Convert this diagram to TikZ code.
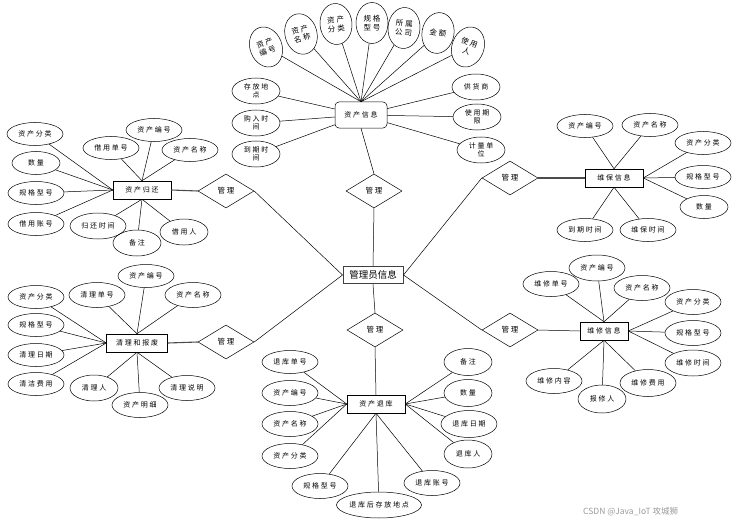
\documentclass[tikz,border=0pt]{standalone}
\usepackage{fontspec}
\setmainfont{Noto Sans CJK SC}[LetterSpace=25]
\newfontfamily\wmfont{Noto Sans CJK SC}
\usetikzlibrary{shapes.geometric}
\begin{document}
\begin{tikzpicture}[x=1pt,y=-1pt,
  base/.style={draw, inner sep=0pt, line width=0.5pt},
  attr/.style={base, ellipse, minimum width=56pt, minimum height=23pt, font=\fontsize{7}{8}\selectfont},
  sattr/.style={attr, minimum width=48pt, minimum height=26pt},
  tattr/.style={base, ellipse, minimum width=32pt, minimum height=41pt, align=center, font=\fontsize{7.5}{9}\selectfont},
  lattr/.style={base, ellipse, minimum width=48pt, minimum height=26pt, align=center, font=\fontsize{7}{8.5}\selectfont},
  ent/.style={base, rectangle, fill=white, minimum width=58pt, minimum height=18pt, font=\fontsize{7}{8}\selectfont},
  rel/.style={base, diamond, minimum width=56pt, minimum height=34pt, font=\fontsize{7.5}{8}\selectfont},
  ln/.style={line width=0.5pt},
  tl/.style={line width=1.1pt, black!70}
]
\useasboundingbox (0,0) rectangle (737,527);

% central
\node[base, rectangle, line width=1pt, draw=black!75, minimum width=60pt, minimum height=17pt, font=\wmfont\fontsize{9.5}{10}\selectfont] (m) at (373,275) {管理员信息};

% relations
\node[rel] (r1) at (374,191) {管理};
\node[rel] (r2) at (375,330) {管理};
\node[rel] (r3) at (226,191) {管理};
\node[rel] (r4) at (510,178) {管理};
\node[rel] (r5) at (226,342) {管理};
\node[rel] (r6) at (510,330) {管理};

% 资产信息
\node[base, rectangle, rounded corners=4pt, minimum width=52pt, minimum height=26pt, font=\fontsize{7}{8}\selectfont] (zc) at (361,115) {资产信息};
\node[tattr, rotate=20] (a1) at (266,47) {资产\\编号};
\node[tattr, rotate=15] (a2) at (301,34) {资产\\名称};
\node[tattr, rotate=5] (a3) at (336,24) {资产\\分类};
\node[tattr] (a4) at (372,23) {规格\\型号};
\node[tattr, rotate=-5] (a5) at (404,28) {所属\\公司};
\node[tattr, rotate=-10] (a6) at (438,33) {金额};
\node[tattr, rotate=-20] (a7) at (468,47) {使用\\人};
\node[lattr] (b1) at (256,91) {存放地\\点};
\node[lattr] (b2) at (256,123) {购入时\\间};
\node[lattr] (b3) at (256,154) {到期时\\间};
\node[lattr] (c1) at (476,87) {供货商};
\node[lattr] (c2) at (477,117) {使用期\\限};
\node[lattr] (c3) at (481,150) {计量单\\位};
\foreach \i in {a1,a2,a3,a4,a5,a6,a7} \draw[ln] (\i) -- (zc.north);
\foreach \i in {b1,b2,b3,c1,c2,c3} \draw[ln] (\i) -- (zc);

% 资产归还
\node[ent] (gh) at (142,190) {资产归还};
\node[attr] (g1) at (35,134) {资产分类};
\node[attr, minimum width=48pt] (g2) at (36,163) {数量};
\node[attr] (g3) at (36,193) {规格型号};
\node[attr] (g4) at (36,224) {借用账号};
\node[attr] (g5) at (111,148) {借用单号};
\node[attr] (g6) at (154,130) {资产编号};
\node[attr] (g7) at (190,150) {资产名称};
\node[attr, minimum height=26pt] (g8) at (98,226) {归还时间};
\node[sattr] (g9) at (137,243) {备注};
\node[sattr] (g10) at (184,232) {借用人};
\foreach \i in {g1,g2,g3,g4} \draw[ln] (\i) -- (gh.west);
\foreach \i in {g5,g6,g7} \draw[ln] (\i) -- (gh.north);
\foreach \i in {g8,g9,g10} \draw[ln] (\i) -- (gh.south);

% 维保信息
\node[ent] (wb) at (614,178) {维保信息};
\node[attr] (w1) at (585,126) {资产编号};
\node[attr] (w2) at (650,125) {资产名称};
\node[attr] (w3) at (703,143) {资产分类};
\node[attr] (w4) at (703,177) {规格型号};
\node[attr, minimum width=48pt] (w5) at (704,207) {数量};
\node[attr] (w6) at (585,230) {到期时间};
\node[attr] (w7) at (648,230) {维保时间};
\foreach \i in {w1,w2} \draw[ln] (\i) -- (wb.north);
\foreach \i in {w3,w4,w5} \draw[ln] (\i) -- (wb.east);
\foreach \i in {w6,w7} \draw[ln] (\i) -- (wb.south);

% 清理和报废
\node[ent, minimum width=61pt] (ql) at (137,343) {清理和报废};
\node[attr] (q1) at (36,297) {资产分类};
\node[attr] (q2) at (36,325) {规格型号};
\node[attr] (q3) at (36,355) {清理日期};
\node[attr] (q4) at (36,384) {清洁费用};
\node[attr, minimum height=25pt] (q5) at (97,295) {清理单号};
\node[attr] (q6) at (146,276) {资产编号};
\node[attr, minimum height=25pt] (q7) at (193,295) {资产名称};
\node[sattr] (q8) at (94,388) {清理人};
\node[attr, minimum height=25pt] (q9) at (140,405) {资产明细};
\node[attr, minimum height=25pt] (q10) at (187,388) {清理说明};
\foreach \i in {q1,q2,q3,q4} \draw[ln] (\i) -- (ql.west);
\foreach \i in {q5,q6,q7} \draw[ln] (\i) -- (ql.north);
\foreach \i in {q8,q9,q10} \draw[ln] (\i) -- (ql.south);

% 维修信息
\node[ent, minimum width=48pt] (wx) at (604,331) {维修信息};
\node[attr, minimum height=25pt] (x1) at (551,284) {维修单号};
\node[attr, minimum height=26pt] (x2) at (597,268) {资产编号};
\node[attr, minimum height=25pt] (x3) at (642,288) {资产名称};
\node[attr, minimum height=25pt] (x4) at (693,302) {资产分类};
\node[attr, minimum height=25pt] (x5) at (693,333) {规格型号};
\node[attr, minimum height=26pt] (x6) at (693,363) {维修时间};
\node[attr, minimum height=25pt] (x7) at (554,381) {维修内容};
\node[sattr, minimum height=28pt] (x8) at (602,399) {报修人};
\node[attr, minimum height=27pt] (x9) at (648,383) {维修费用};
\foreach \i in {x1,x2,x3} \draw[ln] (\i) -- (wx.north);
\foreach \i in {x4,x5,x6} \draw[ln] (\i) -- (wx.east);
\foreach \i in {x7,x8,x9} \draw[ln] (\i) -- (wx.south);

% 资产退库
\node[ent] (tk) at (376,404) {资产退库};
\node[attr] (t1) at (290,362) {退库单号};
\node[attr, minimum height=25pt] (t2) at (290,393) {资产编号};
\node[attr, minimum height=25pt] (t3) at (290,424) {资产名称};
\node[attr, minimum height=25pt] (t4) at (290,456) {资产分类};
\node[attr, minimum height=25pt] (t5) at (320,486) {规格型号};
\node[attr, minimum width=85pt, minimum height=26pt] (t6) at (379,505) {退库后存放地点};
\node[attr, minimum height=25pt] (t7) at (432,483) {退库账号};
\node[sattr, minimum height=27pt] (t8) at (468,362) {备注};
\node[sattr, minimum height=27pt] (t9) at (468,393) {数量};
\node[attr, minimum height=27pt] (t10) at (469,424) {退库日期};
\node[sattr, minimum height=28pt] (t11) at (468,454) {退库人};
\foreach \i in {t1,t2,t3,t4} \draw[ln] (\i) -- (tk.west);
\foreach \i in {t5,t6,t7} \draw[ln] (\i) -- (tk.south);
\foreach \i in {t8,t9,t10,t11} \draw[ln] (\i) -- (tk.east);

% relation links
\draw[ln] (zc.south) -- (r1.north);
\draw[ln] (r1.south) -- (m.north);
\draw[ln] (m.south) -- (r2.north);
\draw[ln] (r3.east) -- (m.west);
\draw[ln] (r5.east) -- (m.west);
\draw[ln] (r4.west) -- (m.east);
\draw[ln] (r6.west) -- (m.east);
\draw[tl] (r3.west) -- (gh.east);
\draw[tl] (r4.east) -- (wb.west);
\draw[tl] (r5.west) -- (ql.east);
\draw[ln] (r6.east) -- (wx.west);
\draw[ln] (r2.south) -- (tk.north);

% watermark
\node[text=black!40, font=\wmfont\fontsize{8.5}{9}\selectfont, anchor=west, inner sep=0pt] (wm) at (583,512) {CSDN @Java\_IoT 攻城狮};
\end{tikzpicture}
\end{document}
